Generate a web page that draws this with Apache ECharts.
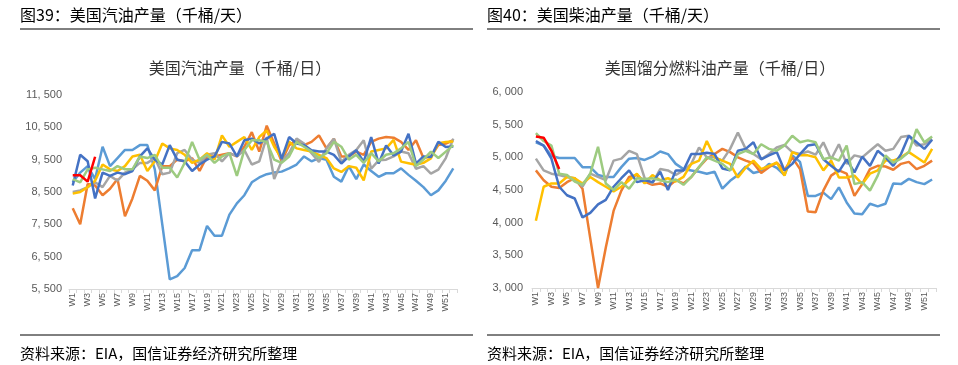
<!DOCTYPE html>
<html><head><meta charset="utf-8">
<script src="https://cdn.jsdelivr.net/npm/echarts@6/dist/echarts.min.js"></script>
<style>html,body{margin:0;padding:0;background:#fff}#c{width:958px;height:365px}</style>
</head><body><div id="c"></div>
<script>
// ---- data ----
const weeks = Array.from({length:52},(_,i)=>'W'+(i+1));
const gasNames = ['2020','2021','2022','2023','2024','2019','2025'];
const gas2020 = [8800,9100,9300,8900,9900,9300,9550,9800,9800,9950,9950,9200,7500,5800,5900,6150,6700,6700,7450,7150,7150,7800,8150,8400,8800,8950,9050,9100,9130,9230,9350,9600,9450,9550,9500,8970,8820,9300,8900,9350,9150,8970,9080,9080,9230,9030,8850,8650,8400,8550,8850,9230];
const gas2021 = [8000,7500,8750,8700,8400,8600,8900,7750,8300,9000,8850,8550,9300,9300,9500,9450,9550,9150,9600,9600,9650,9700,9600,9900,10350,9750,10550,10000,9450,9950,10100,9950,10050,10250,9850,10150,9600,9600,9750,9650,10050,10150,10200,10180,10050,9800,10100,9550,9600,9950,10000,10100];
const gas2022 = [8500,8550,8650,8800,8650,9000,8850,9100,9200,9400,9400,9550,9050,9100,9700,9800,9500,9400,9650,9700,9450,9700,9600,9800,9350,9450,10200,8900,9450,9700,10150,10000,9700,9430,9850,10150,9430,9650,9800,10100,9220,9480,9500,9600,9750,9700,9220,9300,9070,9190,9550,10150];
const gas2023 = [8450,8500,8650,8850,9350,9200,9150,9300,9600,9650,9150,9450,10000,9850,9800,9650,9400,9500,9700,9500,10250,9900,10050,10200,9800,10200,10400,9900,9540,10060,9850,9800,9750,9650,9550,9230,9120,9300,9250,8860,9750,9800,9850,10110,9440,9390,9340,9400,9540,10010,10050,10060];
const gas2024 = [8700,9650,9450,8300,9100,9000,9100,9050,9150,9600,9850,9500,9350,9950,9500,9450,9150,9350,9500,9600,10050,10000,9600,10100,10150,10000,10150,10300,9520,10200,10000,9950,9790,9750,9750,9650,9380,9600,9790,9430,10200,9380,9940,9630,9750,10300,9380,9600,9580,10050,9890,9910];
const gas2019 = [8900,8800,9200,9250,9200,9150,9300,9200,9200,9600,9550,9650,9250,9250,8950,9400,10050,9500,9650,9400,9600,9700,9000,9800,10100,10100,10050,9500,9400,9600,10050,9900,9750,9550,9700,10050,9900,9500,9650,9400,9700,9450,9650,9700,9850,10050,9300,9500,9750,9550,9750,9950];
const gas2025 = [9020,9020,8820,9590];

const dsl2020 = [5230,5180,5020,4990,4990,4990,4850,4850,4730,4700,4700,4850,4980,4990,4960,5010,5090,5050,4900,4820,4800,4780,4750,4780,4520,4640,4730,4860,4760,4790,4900,4840,4730,5030,4930,4410,4410,4460,4360,4540,4310,4140,4130,4290,4250,4290,4600,4590,4670,4620,4590,4660];
const dsl2021 = [4800,4650,4550,4530,4620,4680,4520,3760,3000,3620,4180,4490,4700,4730,4630,4580,4600,4550,4650,4600,4700,4850,4980,5050,5130,5080,5000,4950,4910,4760,4850,4920,4800,5000,4820,4170,4160,4490,4720,4800,4750,4410,4590,4820,4870,4860,4810,4900,4930,4820,4870,4950];
const dsl2022 = [4980,4800,4750,4730,4700,4680,4550,4750,4700,4650,4950,4980,5100,5050,4680,4600,4820,4800,4730,4800,4900,5150,5000,5000,4950,5130,5380,5130,5050,4970,5050,5150,5190,5080,5050,5090,5040,5230,4970,5200,4900,5030,5000,5100,5200,5100,5130,5310,5330,5180,5200,5280];
const dsl2023 = [4030,4550,4600,4600,4700,4680,4600,4700,4620,4550,4480,4550,4650,4750,4600,4730,4650,4680,4630,4700,4900,4950,5250,5000,4950,4900,4690,4840,4950,4820,4870,4920,4720,5080,5030,5030,5000,4800,4950,4690,4690,4720,4590,4750,4800,4950,4950,5000,5080,5000,4920,5130];
const dsl2024 = [5250,5180,4980,4550,4420,4370,4080,4150,4280,4350,4550,4680,4800,4620,4650,4620,4780,4500,4800,4800,5050,5050,5070,5050,4830,4800,5100,5130,5230,4970,5030,5080,4800,4900,5050,5180,5200,4970,4870,4780,4970,4770,5010,4870,5100,5000,4870,5050,5330,5230,5130,5270];
const dsl2019 = [5370,5250,5180,4750,4730,4630,4580,4750,5160,4600,4500,4620,4520,4680,4670,4680,4650,4620,4660,4580,4700,4850,5000,4950,4900,4800,5050,5100,5050,5200,5130,5100,5180,5330,5230,5260,5230,4970,5000,4950,5180,4590,4620,4490,4720,5030,4920,4980,5080,5430,5230,5320];
const dsl2025 = [5320,5300,5100,4820];

const colors = ['#5B9BD5','#ED7D31','#A5A5A5','#FFC000','#4472C4','#9DCB80','#FF0000'];
const gasSeries = [gas2020,gas2021,gas2022,gas2023,gas2024,gas2019,gas2025];
const dslSeries = [dsl2020,dsl2021,dsl2022,dsl2023,dsl2024,dsl2019,dsl2025];

function fmt(v){ const t=Math.floor(v/1000), r=String(v%1000).padStart(3,'0'); return t+', '+r; }

const chart = echarts.init(document.getElementById('c'));
const xAxisBase = {
  type:'category', data:weeks, boundaryGap:true,
  axisLine:{lineStyle:{color:'#D9D9D9',width:1}},
  axisTick:{show:true,interval:0,length:4,lineStyle:{color:'#D9D9D9'}},
  axisLabel:{interval:1,rotate:90,fontSize:9,color:'#595959',margin:4,fontFamily:'Liberation Sans'},
  splitLine:{show:false}
};
const yBase = {type:'value', axisLine:{show:false}, axisTick:{show:false}, splitLine:{show:false}};

function mk(arrs, gi){
  return arrs.map((d,i)=>({
    name:gasNames[i], type:'line', xAxisIndex:gi, yAxisIndex:gi, data:d,
    symbol:'none', smooth:false, lineStyle:{width:2.5,color:colors[i]}, itemStyle:{color:colors[i]},
    z: 2+i, animation:false
  }));
}

const texts = [
  {x:20,y:15,t:'图39：美国汽油产量（千桶/天）',f:'16px "Noto Sans CJK SC"',a:'left',c:'#000'},
  {x:487,y:15,t:'图40：美国柴油产量（千桶/天）',f:'16px "Noto Sans CJK SC"',a:'left',c:'#000'},
  {x:240,y:68,t:'美国汽油产量（千桶/日）',f:'16px "Noto Sans CJK SC"',a:'center',c:'#333'},
  {x:720,y:68,t:'美国馏分燃料油产量（千桶/日）',f:'16px "Noto Sans CJK SC"',a:'center',c:'#333'},
  {x:20,y:353,t:'资料来源：EIA，国信证券经济研究所整理',f:'15px "Noto Sans CJK SC"',a:'left',c:'#000'},
  {x:487,y:353,t:'资料来源：EIA，国信证券经济研究所整理',f:'15px "Noto Sans CJK SC"',a:'left',c:'#000'}
];
const graphic = texts.map(o=>({type:'text',style:{text:o.t,x:o.x,y:o.y,font:o.f,fill:o.c,textAlign:o.a,textVerticalAlign:'middle'}}));
[[20,473,29],[487,940,29],[20,473,335],[487,940,335]].forEach(l=>{
  graphic.push({type:'line',shape:{x1:l[0],y1:l[2],x2:l[1],y2:l[2]},style:{stroke:'#000',lineWidth:1}});
});

chart.setOption({
  animation:false,
  grid:[{left:69,right:501,top:95,bottom:76},{left:532,right:22,top:92,bottom:77}],
  xAxis:[Object.assign({gridIndex:0},xAxisBase),Object.assign({gridIndex:1},xAxisBase)],
  yAxis:[
    Object.assign({gridIndex:0,min:5500,max:11500,interval:500,
      axisLabel:{color:'#595959',fontSize:11,margin:7,fontFamily:'Liberation Sans',
        formatter:v=>((v-5500)%1000===0?fmt(v):'')}},yBase),
    Object.assign({gridIndex:1,min:3000,max:6000,interval:500,
      axisLabel:{color:'#595959',fontSize:11,margin:9,fontFamily:'Liberation Sans',formatter:v=>fmt(v)}},yBase)
  ],
  graphic:graphic,
  series:[...mk(gasSeries,0),...mk(dslSeries,1)]
});
</script></body></html>
